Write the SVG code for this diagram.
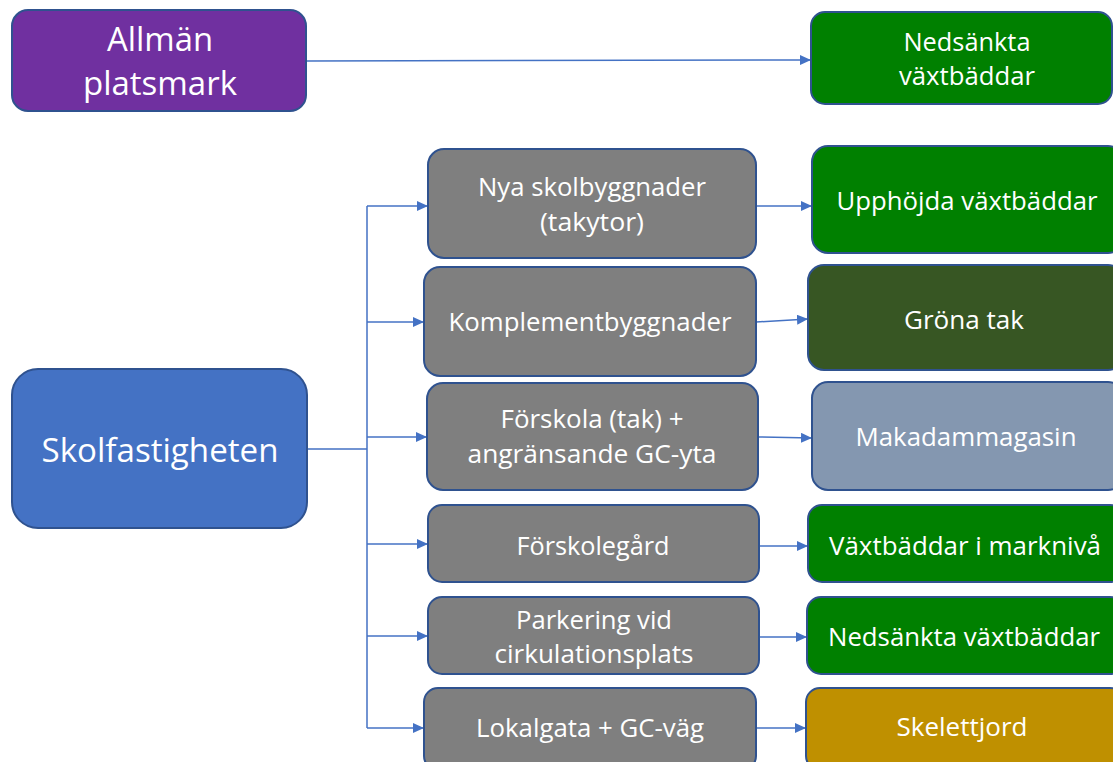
<svg xmlns="http://www.w3.org/2000/svg" width="1113" height="762" viewBox="0 0 1113 762">
<defs>
<marker id="ah" markerUnits="userSpaceOnUse" markerWidth="11" markerHeight="10" refX="11" refY="5" orient="auto">
<path d="M0,0 L11,5 L0,10 z" fill="#4472C4"/>
</marker>
<style>
.b{stroke:#2F528F;stroke-width:2}
.t{font-family:"Open Sans","Noto Sans",sans-serif;fill:#fff;text-anchor:middle}
.L{font-size:33px}
.M{font-size:25px}
.c{fill:none;stroke:#4472C4;stroke-width:1.5}
.a{marker-end:url(#ah)}
</style>
</defs>
<rect width="1113" height="762" fill="#fff"/>
<g id="connectors">
<path class="c a" d="M306,61 L811,60"/>
<path class="c" d="M307,449 L367,449 M367,206 L367,728"/>
<path class="c a" d="M367,206 L428,206"/>
<path class="c a" d="M367,322 L424,322"/>
<path class="c a" d="M367,437 L427,437"/>
<path class="c a" d="M367,544 L428,544"/>
<path class="c a" d="M367,636 L428,636"/>
<path class="c a" d="M367,728 L424,728"/>
<path class="c a" d="M756,206 L812,206"/>
<path class="c a" d="M756,322 L808,319"/>
<path class="c a" d="M758,437 L812,438"/>
<path class="c a" d="M759,546 L808,546"/>
<path class="c a" d="M759,637 L807,637"/>
<path class="c a" d="M756,728 L806,728"/>
</g>
<g id="allman">
<rect class="b" x="12" y="10" width="294" height="101" rx="16" fill="#7030A0"/>
<text class="t L" x="160" y="51" textLength="106" lengthAdjust="spacingAndGlyphs">Allmän</text>
<text class="t L" x="160" y="95" textLength="154" lengthAdjust="spacingAndGlyphs">platsmark</text>
</g>
<g id="nedsankta1">
<rect class="b" x="811" y="12" width="301" height="92" rx="14" fill="#008000"/>
<text class="t M" x="967" y="51" textLength="127" lengthAdjust="spacingAndGlyphs">Nedsänkta</text>
<text class="t M" x="967" y="85" textLength="136" lengthAdjust="spacingAndGlyphs">växtbäddar</text>
</g>
<g id="skolfastigheten">
<rect class="b" x="12" y="369" width="295" height="159" rx="26" fill="#4472C4"/>
<text class="t L" x="160" y="462" textLength="237" lengthAdjust="spacingAndGlyphs">Skolfastigheten</text>
</g>
<g id="nya">
<rect class="b" x="428" y="149" width="328" height="109" rx="16" fill="#7F7F7F"/>
<text class="t M" x="592" y="196" textLength="228" lengthAdjust="spacingAndGlyphs">Nya skolbyggnader</text>
<text class="t M" x="592" y="231" textLength="104" lengthAdjust="spacingAndGlyphs">(takytor)</text>
</g>
<g id="komplement">
<rect class="b" x="424" y="267" width="332" height="109" rx="16" fill="#7F7F7F"/>
<text class="t M" x="590" y="331" textLength="283" lengthAdjust="spacingAndGlyphs">Komplementbyggnader</text>
</g>
<g id="forskola">
<rect class="b" x="427" y="383" width="331" height="107" rx="16" fill="#7F7F7F"/>
<text class="t M" x="592" y="428" textLength="183" lengthAdjust="spacingAndGlyphs">Förskola (tak) +</text>
<text class="t M" x="592" y="463" textLength="249" lengthAdjust="spacingAndGlyphs">angränsande GC-yta</text>
</g>
<g id="forskolegard">
<rect class="b" x="428" y="505" width="331" height="77" rx="14" fill="#7F7F7F"/>
<text class="t M" x="593" y="555" textLength="153" lengthAdjust="spacingAndGlyphs">Förskolegård</text>
</g>
<g id="parkering">
<rect class="b" x="428" y="597" width="331" height="77" rx="14" fill="#7F7F7F"/>
<text class="t M" x="594" y="629" textLength="156" lengthAdjust="spacingAndGlyphs">Parkering vid</text>
<text class="t M" x="594" y="663" textLength="199" lengthAdjust="spacingAndGlyphs">cirkulationsplats</text>
</g>
<g id="lokalgata">
<rect class="b" x="424" y="688" width="332" height="82" rx="14" fill="#7F7F7F"/>
<text class="t M" x="590" y="737" textLength="228" lengthAdjust="spacingAndGlyphs">Lokalgata + GC-väg</text>
</g>
<g id="upphojda">
<rect class="b" x="812" y="146" width="312" height="107" rx="16" fill="#008000"/>
<text class="t M" x="967" y="210" textLength="261" lengthAdjust="spacingAndGlyphs">Upphöjda växtbäddar</text>
</g>
<g id="grona">
<rect class="b" x="808" y="265" width="316" height="105" rx="16" fill="#375623"/>
<text class="t M" x="964" y="329" textLength="120" lengthAdjust="spacingAndGlyphs">Gröna tak</text>
</g>
<g id="makadam">
<rect class="b" x="812" y="382" width="312" height="108" rx="16" fill="#8497B0"/>
<text class="t M" x="966" y="446" textLength="221" lengthAdjust="spacingAndGlyphs">Makadammagasin</text>
</g>
<g id="marknivå">
<rect class="b" x="808" y="505" width="316" height="77" rx="14" fill="#008000"/>
<text class="t M" x="965" y="555" textLength="272" lengthAdjust="spacingAndGlyphs">Växtbäddar i marknivå</text>
</g>
<g id="nedsankta2">
<rect class="b" x="807" y="597" width="317" height="77" rx="14" fill="#008000"/>
<text class="t M" x="964" y="646" textLength="272" lengthAdjust="spacingAndGlyphs">Nedsänkta växtbäddar</text>
</g>
<g id="skelettjord">
<rect class="b" x="806" y="688" width="318" height="82" rx="14" fill="#BF9000"/>
<text class="t M" x="962" y="736" textLength="131" lengthAdjust="spacingAndGlyphs">Skelettjord</text>
</g>
</svg>
